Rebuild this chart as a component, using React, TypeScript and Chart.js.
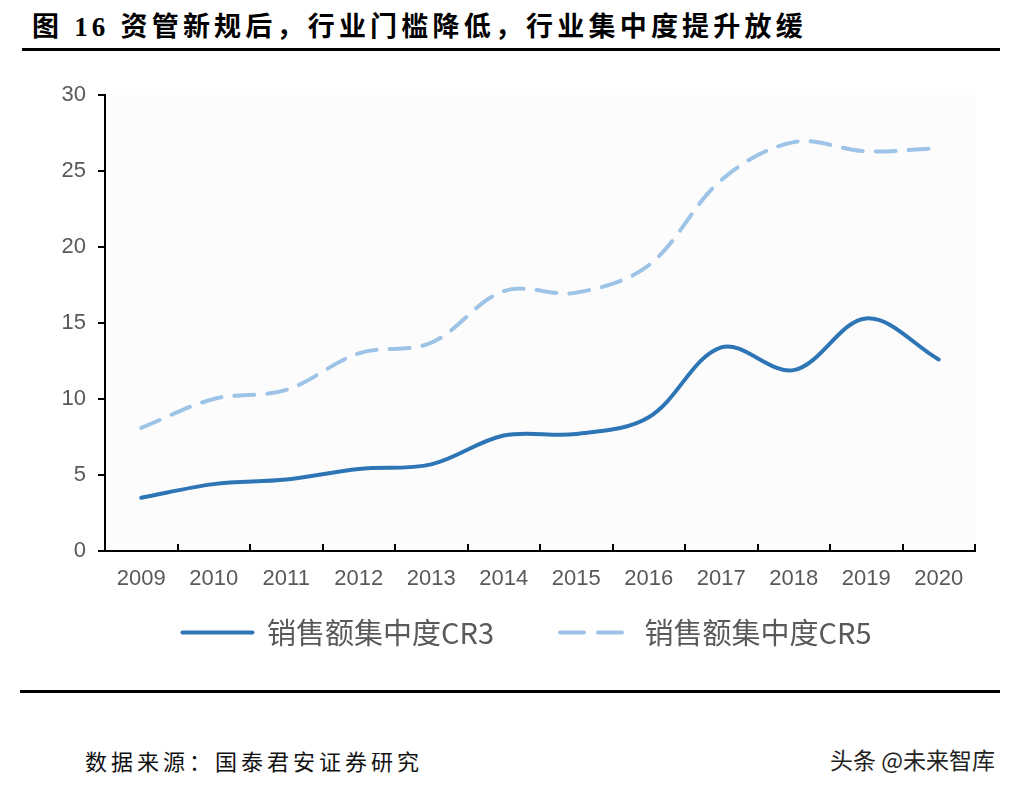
import { useEffect, useRef } from "react"
import { Chart, registerables } from "chart.js"

Chart.register(...registerables)

const anos = ["2009", "2010", "2011", "2012", "2013", "2014", "2015", "2016", "2017", "2018", "2019", "2020"]
const cr3 = [3.5, 4.4, 4.7, 5.4, 5.7, 7.6, 7.7, 8.8, 13.4, 11.9, 15.3, 12.6]
const cr5 = [8.1, 10.0, 10.6, 13.0, 13.7, 17.1, 17.0, 18.8, 24.4, 26.9, 26.3, 26.5]
const nomes = ["销售额集中度CR3", "销售额集中度CR5"]
const yMin = 0
const yMax = 30
const yPasso = 5

const corCR3 = "#2e75b6"
const corCR5 = "#9dc3e6"
const cinza = "#595959"
const tracoLinha = [20, 13]
const tracoLegenda = [24, 14]

// fundo levemente acinzentado só dentro da área do gráfico
const fundoArea = {
  id: "fundoArea",
  beforeDraw(chart: Chart) {
    const { ctx, chartArea } = chart
    ctx.save()
    ctx.fillStyle = "#fcfcfc"
    ctx.fillRect(chartArea.left, chartArea.top, chartArea.right - chartArea.left, chartArea.bottom - chartArea.top)
    ctx.restore()
  },
}

// sobe a legenda para ficar logo abaixo dos rótulos do eixo x
const subirLegenda = {
  id: "subirLegenda",
  afterLayout(chart: any) {
    const lg = chart.legend
    if (!lg) return
    lg.top -= 49
    lg.bottom -= 49
  },
}

function GraficoConcentracao() {
  const chartRef = useRef<HTMLCanvasElement>(null)
  const chartInstance = useRef<Chart | null>(null)

  useEffect(() => {
    if (!chartRef.current) return
    if (chartInstance.current) chartInstance.current.destroy()
    const ctx = chartRef.current.getContext("2d")
    if (!ctx) return

    const fonteEixo = { family: "'Liberation Sans', Arial, sans-serif", size: 22 }

    chartInstance.current = new Chart(ctx, {
      type: "line",
      data: {
        labels: anos,
        datasets: [
          {
            label: nomes[0],
            data: cr3,
            borderColor: corCR3,
            backgroundColor: corCR3,
            borderWidth: 4,
            borderCapStyle: "round",
            pointRadius: 0,
            tension: 0.35,
          },
          {
            label: nomes[1],
            data: cr5,
            borderColor: corCR5,
            backgroundColor: corCR5,
            borderWidth: 4,
            borderDash: tracoLinha,
            borderCapStyle: "round",
            pointRadius: 0,
            tension: 0.35,
          },
        ],
      },
      options: {
        responsive: false,
        animation: false,
        layout: { padding: { left: 50, right: 18, top: 35, bottom: 0 } },
        scales: {
          x: {
            offset: true,
            afterFit: (scale) => {
              scale.height = 50
            },
            grid: {
              offset: true,
              drawOnChartArea: false,
              drawTicks: true,
              tickLength: -7,
              color: "#000",
              lineWidth: 2,
            },
            border: { display: true, color: "#000", width: 2 },
            ticks: {
              padding: 22,
              color: cinza,
              font: fonteEixo,
              maxRotation: 0,
              autoSkip: false,
            },
          },
          y: {
            min: yMin,
            max: yMax,
            afterFit: (scale) => {
              scale.width = 55
            },
            grid: {
              drawOnChartArea: false,
              drawTicks: true,
              tickLength: 7,
              color: "#000",
              lineWidth: 2,
            },
            border: { display: true, color: "#000", width: 2 },
            ticks: {
              stepSize: yPasso,
              padding: 12,
              color: cinza,
              font: fonteEixo,
            },
          },
          // eixo vazio à direita, só para deixar a margem branca do lado direito
          margemDireita: {
            position: "right",
            afterFit: (scale) => {
              scale.width = 29
            },
            grid: { display: false },
            border: { display: false },
            ticks: { display: false },
          },
        },
        plugins: {
          legend: {
            position: "bottom",
            labels: {
              usePointStyle: true,
              pointStyle: "line",
              pointStyleWidth: 70,
              padding: 66,
              color: cinza,
              font: { family: "'Noto Sans CJK SC', sans-serif", size: 29 },
              generateLabels: (chart) => {
                const itens = Chart.defaults.plugins.legend.labels.generateLabels(chart)
                return itens.map((item, i) => ({
                  ...item,
                  strokeStyle: i === 0 ? corCR3 : corCR5,
                  lineWidth: 4,
                  lineCap: "round",
                  lineDash: i === 0 ? [] : tracoLegenda,
                }))
              },
            },
          },
          tooltip: { enabled: false },
          title: { display: false },
        },
      },
      plugins: [fundoArea, subirLegenda],
    })

    return () => {
      if (chartInstance.current) {
        chartInstance.current.destroy()
        chartInstance.current = null
      }
    }
  }, [])

  return (
    <canvas
      ref={chartRef}
      width={1022}
      height={646}
      style={{ position: "absolute", left: 0, top: 60, width: 1022, height: 646 }}
    />
  )
}

export default function App() {
  return (
    <div style={{ position: "absolute", left: 0, top: 0, width: 1022, height: 794, background: "#fff", overflow: "hidden" }}>
      <div
        style={{
          position: "absolute",
          left: 32,
          top: 12,
          fontFamily: "'Liberation Serif', 'Times New Roman', 'Noto Sans CJK SC', serif",
          fontWeight: "bold",
          fontSize: 27,
          lineHeight: "30px",
          letterSpacing: 4.2,
          color: "#000",
          whiteSpace: "nowrap",
        }}
      >
        图 16 资管新规后，行业门槛降低，行业集中度提升放缓
      </div>
      <div style={{ position: "absolute", left: 22, top: 48, width: 978, height: 3, background: "#000" }} />
      <GraficoConcentracao />
      <div style={{ position: "absolute", left: 20, top: 690, width: 980, height: 3, background: "#000" }} />
      <div
        style={{
          position: "absolute",
          left: 85,
          top: 746,
          fontFamily: "'Noto Sans CJK SC', serif",
          fontSize: 22,
          lineHeight: "28px",
          letterSpacing: 4,
          color: "#111",
          whiteSpace: "nowrap",
        }}
      >
        数据来源：国泰君安证券研究
      </div>
      <div
        style={{
          position: "absolute",
          left: 830,
          top: 745,
          fontFamily: "'Noto Sans CJK SC', sans-serif",
          fontSize: 23,
          lineHeight: "28px",
          color: "#222",
          whiteSpace: "nowrap",
        }}
      >
        头条 @未来智库
      </div>
    </div>
  )
}
